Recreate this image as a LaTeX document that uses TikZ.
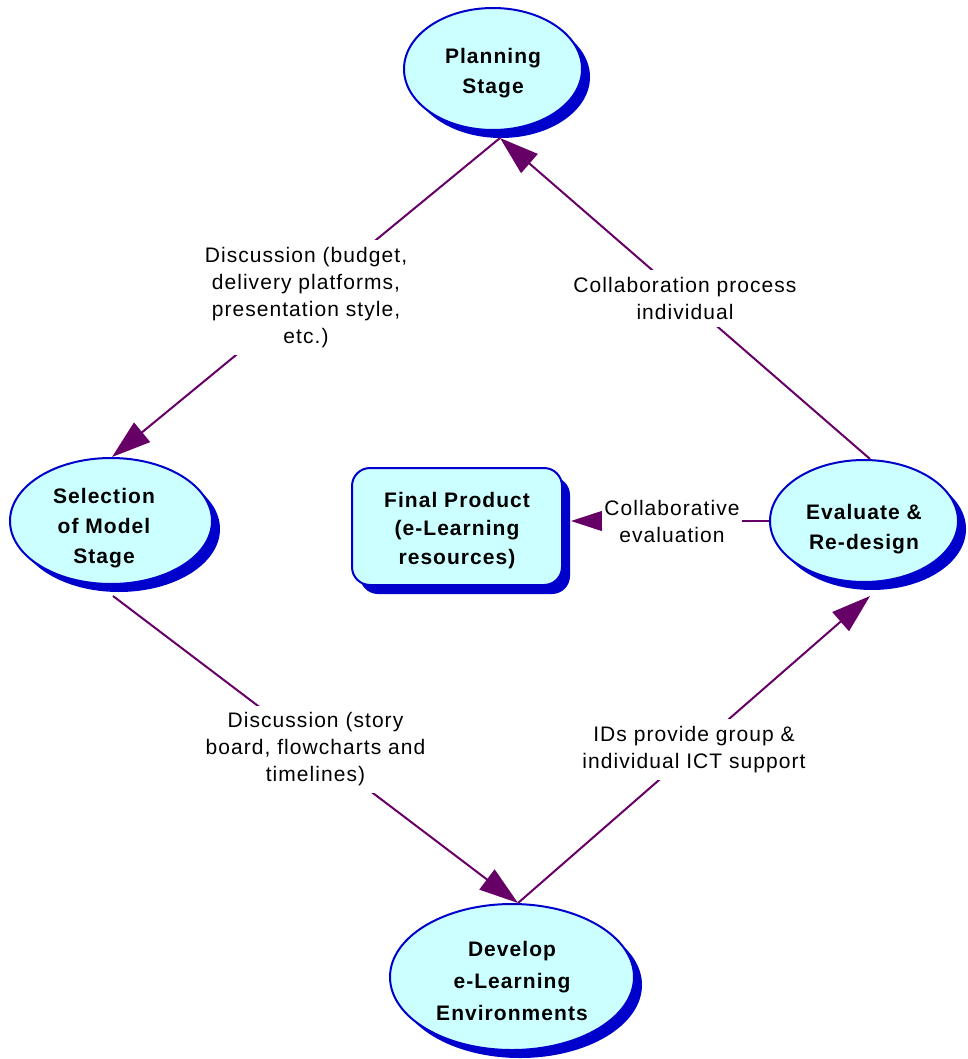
\documentclass[tikz,border=0pt]{standalone}
\usepackage{fontspec}
\setmainfont{Liberation Sans}[LetterSpace=5]
\usetikzlibrary{shapes.geometric,arrows.meta,shadows}
\definecolor{lineP}{RGB}{102,0,102}
\definecolor{fillC}{RGB}{204,255,255}
\definecolor{bordB}{RGB}{0,0,204}
\begin{document}
\begin{tikzpicture}[x=1pt,y=-1pt,
  stagetext/.style={inner sep=0pt, align=center, font=\fontsize{21}{30}\selectfont\bfseries, text=black},
  stage/.style={ellipse, draw=bordB, line width=2pt, fill=fillC, inner sep=0pt,
    drop shadow={shadow xshift=8pt, shadow yshift=-8pt, fill=bordB, opacity=1}},
  prodbox/.style={rectangle, rounded corners=18pt, draw=bordB, line width=2pt, fill=fillC,
    inner sep=0pt,
    drop shadow={shadow xshift=8pt, shadow yshift=-9pt, fill=bordB, opacity=1}},
  conn/.style={draw=lineP, line width=2pt, -{Triangle[length=39pt,width=25pt]}},
  lbl/.style={fill=white, inner sep=7pt, align=center, font=\fontsize{21}{27}\selectfont, text=black}]
\useasboundingbox (0,0) rectangle (968,1059);

\node[stage, minimum width=178pt, minimum height=122pt,
  label={[stagetext, yshift=-4pt]center:{Planning\\Stage}}] (P) at (493,69) {};
\node[stage, minimum width=202pt, minimum height=126pt,
  label={[stagetext, xshift=-7pt, yshift=-7pt]center:{Selection\\of Model\\Stage}}] (S) at (111,521) {};
\node[stage, minimum width=188pt, minimum height=122pt,
  label={[stagetext, xshift=0pt, yshift=-8pt]center:{Evaluate \&\\Re-design}}] (E) at (864,521) {};
\node[stage, minimum width=244pt, minimum height=146pt,
  label={[stagetext, font=\fontsize{21}{32}\selectfont\bfseries, yshift=-4pt]center:{Develop\\e-Learning\\Environments}}] (D) at (512,977) {};
\node[prodbox, minimum width=210pt, minimum height=117pt,
  label={[stagetext, font=\fontsize{21}{28.5}\selectfont\bfseries, yshift=-4pt]center:{Final Product\\(e-Learning\\resources)}}] (F) at (457,526.5) {};

\draw[conn] ([xshift=7pt,yshift=-7pt]P.south) -- node[lbl,pos=0.5] {Discussion (budget,\\delivery platforms,\\presentation style,\\etc.)} ([xshift=1pt]S.north);
\draw[conn] ([xshift=6pt]E.north) -- node[lbl,pos=0.5] {Collaboration process\\individual} ([xshift=7pt,yshift=-7pt]P.south);
\draw[conn] ([xshift=2pt,yshift=-11pt]S.south) -- node[lbl,pos=0.5] {Discussion (story\\board, flowcharts and\\timelines)} ([xshift=6pt]D.north);
\draw[conn] ([xshift=6pt]D.north) -- node[lbl,pos=0.5] {IDs provide group \&\\individual ICT support} ([xshift=6pt,yshift=-13pt]E.south);
\draw[conn] (E.west) -- node[lbl,pos=0.49,inner xsep=2pt] {Collaborative\\evaluation} ([xshift=8pt]F.east |- E.west);
\end{tikzpicture}
\end{document}
